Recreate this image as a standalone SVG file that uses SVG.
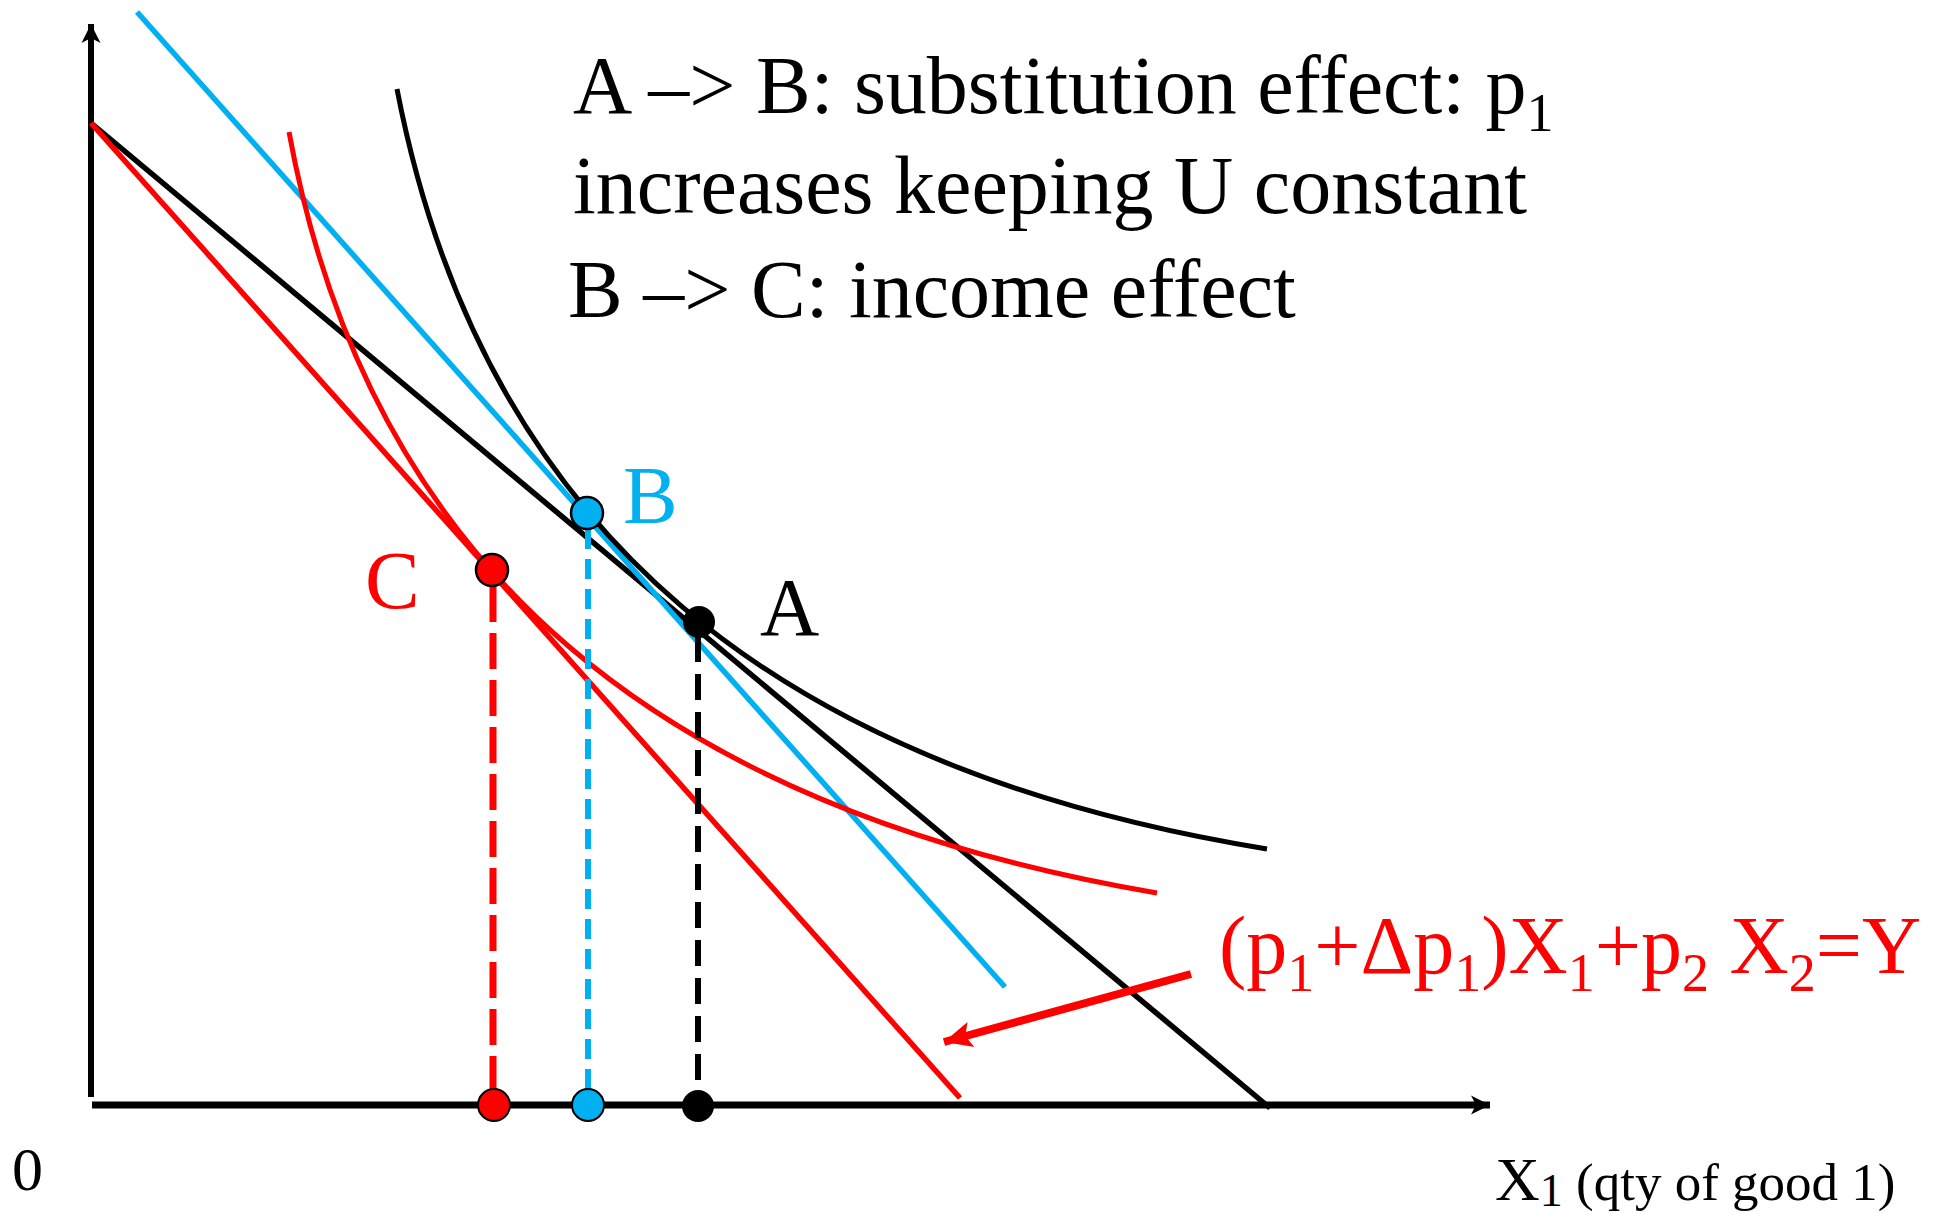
<svg xmlns="http://www.w3.org/2000/svg" width="1933" height="1214" viewBox="0 0 1933 1214">
  <style>
    .t { font-family: "Liberation Serif", "Times New Roman", serif; }
    .big { font-size: 82px; }
    .sub { font-size: 54px; }
    .blk { fill: #000000; }
    .red { fill: #FF0000; }
    .blu { fill: #00B0F0; }
    .ln { fill: none; stroke-linecap: butt; }
  </style>
  <defs>
    <marker id="axisHead" viewBox="0 0 20 20" refX="19" refY="10" markerWidth="20" markerHeight="20" markerUnits="userSpaceOnUse" orient="auto">
      <path d="M19,10 L0,0.5 L5,10 L0,19.5 Z" fill="#000"/>
    </marker>
    <marker id="redHead" viewBox="0 0 30 28" refX="28" refY="14" markerWidth="30" markerHeight="28" markerUnits="userSpaceOnUse" orient="auto">
      <path d="M28,14 L0,1 L6,14 L0,27 Z" fill="#FF0000"/>
    </marker>
  </defs>
  <rect width="1933" height="1214" fill="#ffffff"/>

  <g id="axes">
    <line x1="91" y1="1097" x2="91" y2="24" stroke="#000" stroke-width="6" marker-end="url(#axisHead)"/>
    <line x1="92" y1="1105" x2="1490" y2="1105" stroke="#000" stroke-width="7" marker-end="url(#axisHead)"/>
  </g>

  <g id="budget-lines">
    <line id="budget-original" x1="91" y1="123" x2="1270" y2="1108" stroke="#000" stroke-width="5.5"/>
    <line id="budget-new" x1="91" y1="123" x2="960" y2="1098" stroke="#FF0000" stroke-width="5.5"/>
    <line id="budget-compensated" x1="137" y1="12" x2="1005" y2="987" stroke="#00B0F0" stroke-width="5.5"/>
  </g>

  <g id="indifference-curves">
    <path id="ic-original" class="ln" d="M397,89 C483,535 781,770 1267,849" stroke="#000" stroke-width="5"/>
    <path id="ic-new" class="ln" d="M289,132 C370,575 668,810 1157,893" stroke="#FF0000" stroke-width="5"/>
  </g>

  <g id="connectors">
    <line x1="493" y1="586" x2="493" y2="1100" stroke="#FF0000" stroke-width="7" stroke-dasharray="36 11"/>
    <line x1="588" y1="529" x2="588" y2="1100" stroke="#00B0F0" stroke-width="6" stroke-dasharray="20 10"/>
    <line x1="698" y1="636" x2="698" y2="1100" stroke="#000" stroke-width="6" stroke-dasharray="26 12"/>
    <line id="label-arrow" x1="1191" y1="974" x2="944" y2="1042" stroke="#FF0000" stroke-width="8" marker-end="url(#redHead)"/>
  </g>

  <g id="point-A">
    <circle cx="699" cy="622" r="16" fill="#000"/>
    <text class="t big blk" x="760" y="635">A</text>
  </g>
  <g id="point-B">
    <circle cx="587" cy="513" r="16" fill="#00B0F0" stroke="#000" stroke-width="2.5"/>
    <text class="t big blu" x="623" y="523">B</text>
  </g>
  <g id="point-C">
    <circle cx="492" cy="570" r="16" fill="#FF0000" stroke="#000" stroke-width="2.5"/>
    <text class="t big red" x="365" y="608">C</text>
  </g>

  <g id="axis-points">
    <circle cx="494" cy="1105" r="16" fill="#FF0000" stroke="#000" stroke-width="2"/>
    <circle cx="588" cy="1105" r="16" fill="#00B0F0" stroke="#000" stroke-width="2"/>
    <circle cx="698" cy="1106" r="16" fill="#000"/>
  </g>

  <g id="explanation">
    <text class="t big blk" x="573" y="113">A –&gt; B: substitution effect: p<tspan class="sub" dy="18">1</tspan></text>
    <text class="t big blk" x="573" y="213">increases keeping U constant</text>
    <text class="t big blk" x="568" y="317">B –&gt; C: income effect</text>
  </g>

  <g id="equation">
    <text class="t big red" x="1219" y="973">(p<tspan class="sub" dy="18">1</tspan><tspan dy="-18">+Δp</tspan><tspan class="sub" dy="18">1</tspan><tspan dy="-18">)X</tspan><tspan class="sub" dy="18">1</tspan><tspan dy="-18">+p</tspan><tspan class="sub" dy="18">2</tspan><tspan dy="-18"> X</tspan><tspan class="sub" dy="18">2</tspan><tspan dy="-18">=Y</tspan></text>
  </g>

  <g id="axis-labels">
    <text class="t blk" x="12" y="1190" font-size="62">0</text>
    <text class="t blk" x="1495" y="1200" font-size="62">X<tspan font-size="46" dy="6">1</tspan><tspan font-size="53" dy="-6"> (qty of good 1)</tspan></text>
  </g>
</svg>
